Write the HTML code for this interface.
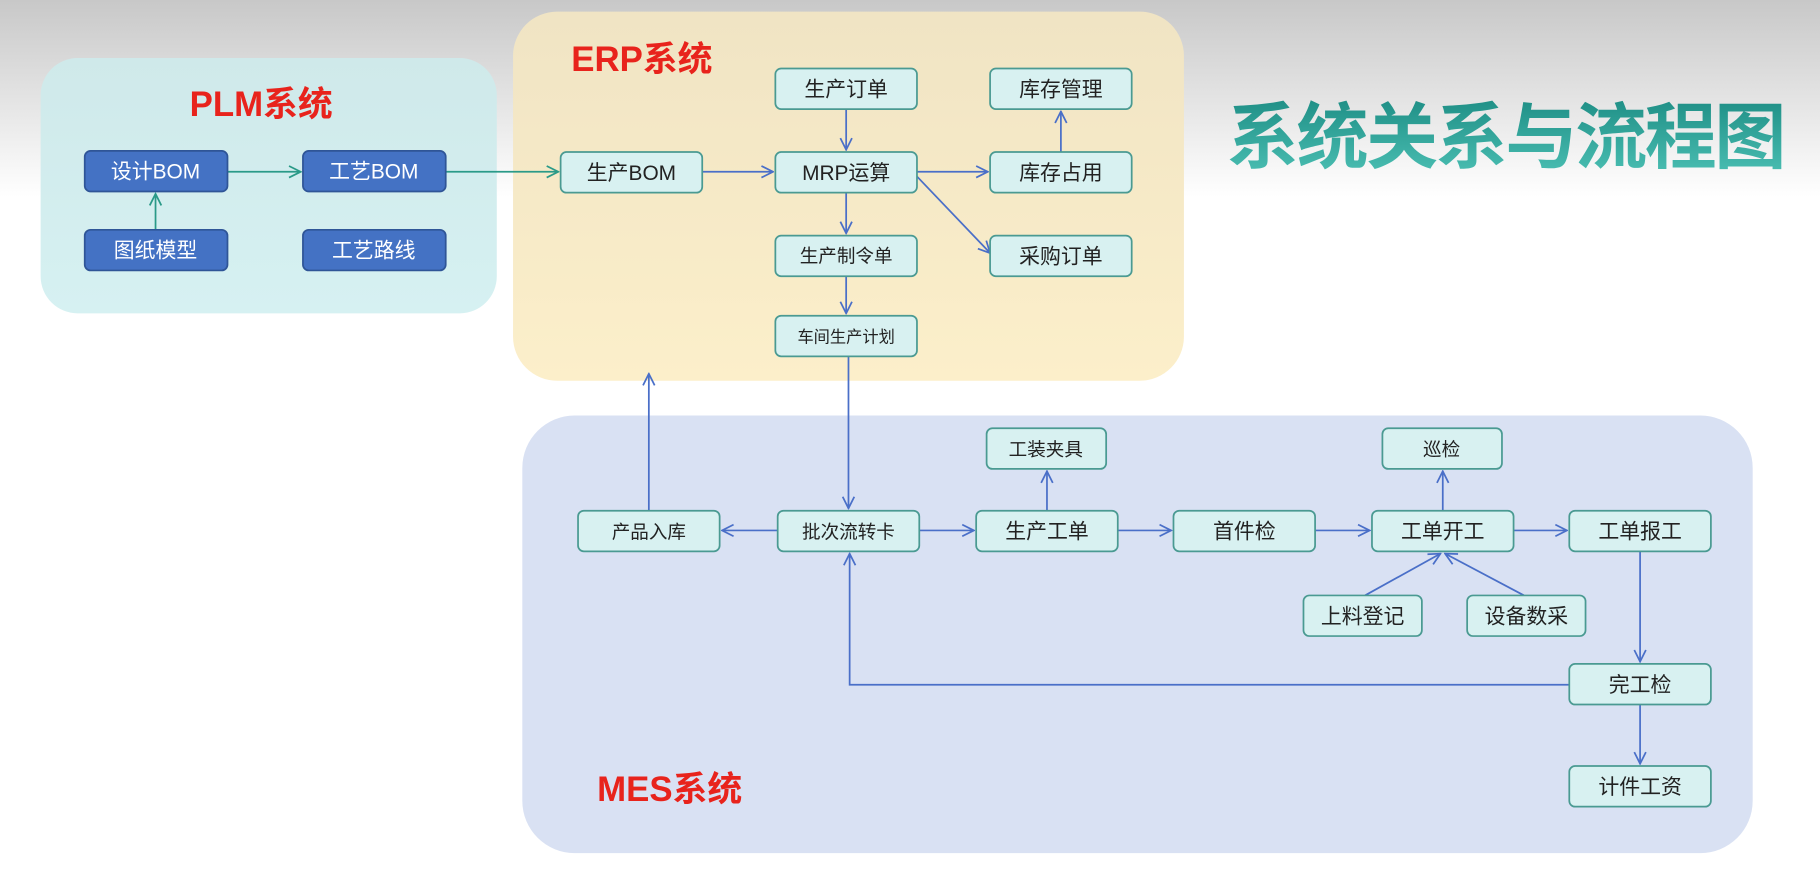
<!DOCTYPE html>
<html><head><meta charset="utf-8"><style>
html,body{margin:0;padding:0;width:1820px;height:874px;overflow:hidden;background:#fff}
svg{display:block}
text{font-family:"Liberation Sans","Noto Sans CJK SC",sans-serif}
</style></head><body>
<svg width="1820" height="874" viewBox="0 0 1568 753" preserveAspectRatio="none" xmlns="http://www.w3.org/2000/svg">
<defs>
<linearGradient id="bg" x1="0" y1="0" x2="0" y2="1"><stop offset="0" stop-color="#c8c8c8"/><stop offset="1" stop-color="#ffffff"/></linearGradient>
<linearGradient id="plm" x1="0" y1="0" x2="0" y2="1"><stop offset="0" stop-color="#cfe9ea"/><stop offset="1" stop-color="#d6f1f2"/></linearGradient>
<linearGradient id="erp" x1="0" y1="0" x2="0" y2="1"><stop offset="0" stop-color="#f0e4c4"/><stop offset="1" stop-color="#fcefca"/></linearGradient>
<linearGradient id="tt" x1="0" y1="0" x2="0" y2="1"><stop offset="0" stop-color="#1f8f86"/><stop offset="1" stop-color="#4cc0b4"/></linearGradient>
<marker id="a" viewBox="0 0 12 12" refX="11" refY="6" markerWidth="12" markerHeight="12" markerUnits="userSpaceOnUse" orient="auto"><path d="M1,1 L11,6 L1,11" fill="none" stroke="#4a6fc8" stroke-width="1.5"/></marker>
<marker id="g" viewBox="0 0 12 12" refX="11" refY="6" markerWidth="12" markerHeight="12" markerUnits="userSpaceOnUse" orient="auto"><path d="M1,1 L11,6 L1,11" fill="none" stroke="#2a9a88" stroke-width="1.5"/></marker>
</defs>
<rect width="1568" height="170" fill="url(#bg)"/>
<rect x="35" y="50" width="393" height="220" rx="32" fill="url(#plm)"/>
<rect x="442" y="10" width="578" height="318" rx="38" fill="url(#erp)"/>
<rect x="450" y="358" width="1060" height="377" rx="45" fill="#d9e1f3"/>
<text x="1297" y="140" font-size="62" font-weight="bold" fill="url(#tt)" text-anchor="middle" letter-spacing="-2">系统关系与流程图</text>
<g font-weight="bold" fill="#e8231c" font-size="30">
<text x="225" y="100" text-anchor="middle">PLM系统</text>
<text x="553" y="61" text-anchor="middle">ERP系统</text>
<text x="577" y="690" text-anchor="middle">MES系统</text>
</g>
<g stroke="#2a9a88" stroke-width="1.5" fill="none">
<line x1="196" y1="148" x2="259" y2="148" marker-end="url(#g)"/>
<line x1="134" y1="198" x2="134" y2="167" marker-end="url(#g)"/>
<line x1="384" y1="148" x2="481" y2="148" marker-end="url(#g)"/>
</g>
<g stroke="#4a6fc8" stroke-width="1.5" fill="none">
<line x1="605" y1="148" x2="666" y2="148" marker-end="url(#a)"/>
<line x1="729" y1="94" x2="729" y2="129" marker-end="url(#a)"/>
<line x1="790" y1="148" x2="851" y2="148" marker-end="url(#a)"/>
<line x1="914" y1="131" x2="914" y2="96" marker-end="url(#a)"/>
<line x1="790" y1="152" x2="853" y2="218" marker-end="url(#a)"/>
<line x1="729" y1="166" x2="729" y2="201" marker-end="url(#a)"/>
<line x1="729" y1="238" x2="729" y2="270" marker-end="url(#a)"/>
<line x1="731" y1="307" x2="731" y2="438" marker-end="url(#a)"/>
<line x1="559" y1="440" x2="559" y2="322" marker-end="url(#a)"/>
<line x1="670" y1="457" x2="622" y2="457" marker-end="url(#a)"/>
<line x1="792" y1="457" x2="839" y2="457" marker-end="url(#a)"/>
<line x1="902" y1="440" x2="902" y2="406" marker-end="url(#a)"/>
<line x1="963" y1="457" x2="1009" y2="457" marker-end="url(#a)"/>
<line x1="1133" y1="457" x2="1180" y2="457" marker-end="url(#a)"/>
<line x1="1243" y1="440" x2="1243" y2="406" marker-end="url(#a)"/>
<line x1="1304" y1="457" x2="1350" y2="457" marker-end="url(#a)"/>
<line x1="1176" y1="513" x2="1241" y2="477" marker-end="url(#a)"/>
<line x1="1313" y1="513" x2="1245" y2="477" marker-end="url(#a)"/>
<line x1="1413" y1="475" x2="1413" y2="570" marker-end="url(#a)"/>
<line x1="1413" y1="607" x2="1413" y2="658" marker-end="url(#a)"/>
<polyline points="1352,590 732,590 732,477" marker-end="url(#a)"/>
</g>
<g font-size="18" fill="#fff" text-anchor="middle">
<g fill="#4472c4" stroke="#2f5597" stroke-width="1.5">
<rect x="73" y="130" width="123" height="35" rx="5"/><rect x="261" y="130" width="123" height="35" rx="5"/>
<rect x="73" y="198" width="123" height="35" rx="5"/><rect x="261" y="198" width="123" height="35" rx="5"/>
</g>
<text x="134" y="154">设计BOM</text><text x="322" y="154">工艺BOM</text>
<text x="134" y="222">图纸模型</text><text x="322" y="222">工艺路线</text>
</g>
<g fill="#d8f1f1" stroke="#4a9a92" stroke-width="1.5">
<rect x="483" y="131" width="122" height="35" rx="5"/><rect x="668" y="131" width="122" height="35" rx="5"/>
<rect x="668" y="59" width="122" height="35" rx="5"/><rect x="853" y="59" width="122" height="35" rx="5"/>
<rect x="853" y="131" width="122" height="35" rx="5"/><rect x="853" y="203" width="122" height="35" rx="5"/>
<rect x="668" y="203" width="122" height="35" rx="5"/><rect x="668" y="272" width="122" height="35" rx="5"/>
<rect x="498" y="440" width="122" height="35" rx="5"/><rect x="670" y="440" width="122" height="35" rx="5"/>
<rect x="841" y="440" width="122" height="35" rx="5"/><rect x="1011" y="440" width="122" height="35" rx="5"/>
<rect x="1182" y="440" width="122" height="35" rx="5"/><rect x="1352" y="440" width="122" height="35" rx="5"/>
<rect x="850" y="369" width="103" height="35" rx="5"/><rect x="1191" y="369" width="103" height="35" rx="5"/>
<rect x="1123" y="513" width="102" height="35" rx="5"/><rect x="1264" y="513" width="102" height="35" rx="5"/>
<rect x="1352" y="572" width="122" height="35" rx="5"/><rect x="1352" y="660" width="122" height="35" rx="5"/>
</g>
<g font-size="18" fill="#222" text-anchor="middle">
<text x="544" y="155">生产BOM</text><text x="729" y="155">MRP运算</text>
<text x="729" y="83">生产订单</text><text x="914" y="83">库存管理</text>
<text x="914" y="155">库存占用</text><text x="914" y="227">采购订单</text>
<text x="729" y="226" font-size="16">生产制令单</text><text x="729" y="295" font-size="14">车间生产计划</text>
<text x="559" y="464" font-size="16">产品入库</text><text x="731" y="464" font-size="16">批次流转卡</text>
<text x="902" y="464">生产工单</text><text x="1072" y="464">首件检</text>
<text x="1243" y="464">工单开工</text><text x="1413" y="464">工单报工</text>
<text x="901" y="393" font-size="16">工装夹具</text><text x="1242" y="393" font-size="16">巡检</text>
<text x="1174" y="537">上料登记</text><text x="1315" y="537">设备数采</text>
<text x="1413" y="596">完工检</text><text x="1413" y="684">计件工资</text>
</g>
</svg>
</body></html>
